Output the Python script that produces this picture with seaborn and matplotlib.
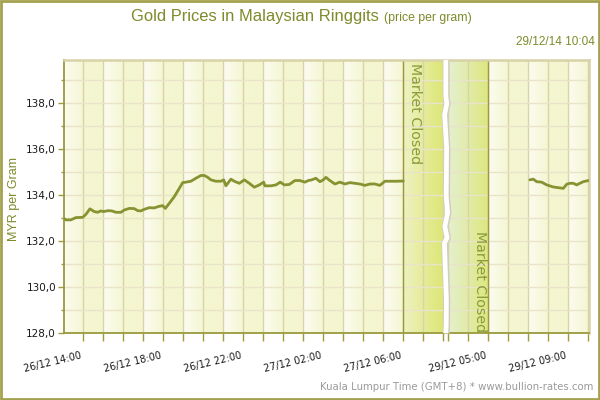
import numpy as np
import pandas as pd
import matplotlib
matplotlib.use("Agg")
import matplotlib.pyplot as plt
import matplotlib.transforms as mtransforms
import seaborn as sns
from matplotlib.patches import Rectangle
from matplotlib.ticker import FixedLocator, FuncFormatter

# ---------------- data ----------------
# Session 1: hours after 26/12 14:00 (Kuala Lumpur time), price MYR/gram
s1_hours = [-0.95, -0.87, -0.62, -0.37, -0.03, 0.13, 0.33, 0.55, 0.72, 0.88,
            1.02, 1.22, 1.43, 1.63, 1.88, 2.05, 2.30, 2.55, 2.72, 2.88,
            3.05, 3.30, 3.55, 3.75, 3.97, 4.10, 4.30, 4.55, 4.80, 4.97,
            5.13, 5.38, 5.63, 5.88, 6.05, 6.22, 6.38, 6.63, 6.88, 7.02,
            7.13, 7.38, 7.55, 7.80, 8.05, 8.30, 8.55, 8.80, 9.02, 9.08,
            9.38, 9.63, 9.85, 10.05, 10.30, 10.58, 10.83, 11.08, 11.25, 11.42,
            11.63, 11.83, 12.00, 12.13, 12.33, 12.58, 12.83, 13.08, 13.33, 13.58,
            13.83, 14.08, 14.33, 14.58, 14.83, 15.08, 15.33, 15.67, 16.00]
s1_prices = [132.98, 132.93, 132.93, 133.03, 133.04, 133.17, 133.41, 133.29, 133.26, 133.32,
             133.29, 133.33, 133.32, 133.26, 133.26, 133.36, 133.43, 133.42, 133.33, 133.32,
             133.39, 133.46, 133.45, 133.51, 133.55, 133.43, 133.65, 133.94, 134.30, 134.55,
             134.57, 134.61, 134.74, 134.86, 134.86, 134.78, 134.67, 134.61, 134.61, 134.67,
             134.41, 134.70, 134.61, 134.52, 134.67, 134.52, 134.35, 134.45, 134.57, 134.41,
             134.41, 134.45, 134.57, 134.45, 134.47, 134.64, 134.64, 134.57, 134.64, 134.67,
             134.74, 134.59, 134.67, 134.78, 134.64, 134.49, 134.57, 134.49, 134.55, 134.52,
             134.49, 134.43, 134.49, 134.49, 134.43, 134.61, 134.61, 134.61, 134.62]
# Session 2: clock hours on 29/12, price MYR/gram
s2_clock = [7.08, 7.25, 7.42, 7.67, 7.92, 8.25, 8.50, 8.75, 8.92, 9.08,
            9.25, 9.42, 9.58, 9.75, 10.00]
s2_prices = [134.67, 134.70, 134.59, 134.57, 134.45, 134.36, 134.33, 134.30, 134.48, 134.52,
             134.52, 134.45, 134.52, 134.59, 134.64]

x_tick_labels = ["26/12 14:00", "26/12 18:00", "26/12 22:00", "27/12 02:00",
                 "27/12 06:00", "29/12 05:00", "29/12 09:00"]
y_ticks = [128, 130, 132, 134, 136, 138]

# ---------------- axis mapping (trading-time scale with a break) ----------------
S2_OFFSET = 15.25            # 29/12 clock hour c -> display position c + 15.25
session1_ticks = list(range(0, 19))
session2_ticks = [c + S2_OFFSET for c in range(3, 11)]
label_pos = [0, 4, 8, 12, 16, 5 + S2_OFFSET, 9 + S2_OFFSET]
closed_spans = [(16, 18), (3 + S2_OFFSET, 5 + S2_OFFSET)]
break_x = 18.125
XMIN, XMAX = -0.95, 25.30
YMIN, YMAX = 128.0, 139.88

df1 = pd.DataFrame({"x": s1_hours, "price": s1_prices})
df2 = pd.DataFrame({"x": [c + S2_OFFSET for c in s2_clock], "price": s2_prices})

# ---------------- style ----------------
sns.set_theme(style="white")
plt.rcParams["font.family"] = ["DejaVu Sans"]

OLIVE = "#869330"
TEXT_OLIVE = "#7f8a2a"

fig = plt.figure(figsize=(6, 4), dpi=100)
fig.patch.set_facecolor("white")
ax = fig.add_axes([64.3 / 600, (400 - 333.3) / 400, (589.3 - 64.3) / 600, (333.3 - 60) / 400])

# background bands (white -> pale yellow gradient every 2 hours)
xs = np.linspace(XMIN, XMAX, 1400)
white = np.array([252, 252, 242]) / 255
yellow = np.array([244, 246, 208]) / 255
phase = np.where(xs < break_x, (xs + 1) % 2, (xs - 20.25) % 2)
w = np.clip(1 - phase / 1.2, 0, 1) ** 1.2
bg = white[None, :] * w[:, None] + yellow[None, :] * (1 - w[:, None])
ax.imshow(bg[None, :, :], extent=[XMIN, XMAX, YMIN, YMAX], aspect="auto", zorder=0,
          interpolation="bilinear")

# market-closed gradients
grads = [((238, 243, 196), (221, 230, 118)), ((229, 240, 210), (221, 231, 128))]
for (x0, x1), (c0, c1) in zip(closed_spans, grads):
    c0 = np.array(c0) / 255
    c1 = np.array(c1) / 255
    t = np.linspace(0, 1, 100)
    ty = np.linspace(0, 1, 60)[:, None, None]
    row = c0[None, :] * (1 - t[:, None]) + c1[None, :] * t[:, None]
    img = row[None, :, :] * (1 - 0.06 * ty) + (c1[None, None, :] * 0.06 * ty)
    ax.imshow(img, extent=[x0, x1, YMIN, YMAX], aspect="auto", zorder=0.2,
              interpolation="bilinear", origin="upper")

ax.set_xlim(XMIN, XMAX)
ax.set_ylim(YMIN, YMAX)

# ticks
ax.xaxis.set_major_locator(FixedLocator(label_pos))
ax.xaxis.set_minor_locator(FixedLocator(session1_ticks + session2_ticks))
ax.set_xticks(label_pos)
ax.set_xticklabels(x_tick_labels)
ax.yaxis.set_major_locator(FixedLocator(y_ticks))
ax.yaxis.set_minor_locator(FixedLocator([129, 131, 133, 135, 137, 139]))
ax.yaxis.set_major_formatter(FuncFormatter(lambda v, p: f"{v:.1f}".replace(".", ",")))

ax.tick_params(axis="x", which="both", direction="out", length=5.5, width=1, color="#9c9c3c",
               bottom=True, labelsize=7.0, labelcolor="#1a1a1a", pad=7)
ax.tick_params(axis="y", which="major", direction="out", length=4, width=1, color="#9c9c3c",
               left=True, labelsize=7.5, labelcolor="#1a1a1a", pad=2)
ax.tick_params(axis="y", which="minor", direction="out", length=2.5, width=1, color="#9c9c3c",
               left=True)
shift = mtransforms.ScaledTranslation(-3 / 100, 0, fig.dpi_scale_trans)
for lab in ax.get_xticklabels():
    lab.set_rotation(13.5)
    lab.set_ha("right")
    lab.set_rotation_mode("anchor")
    lab.set_transform(lab.get_transform() + shift)

ax.set_axisbelow(True)
ax.xaxis.grid(True, which="both", color="#d9d3a9", lw=1)
ax.yaxis.grid(True, which="both", color="#e9e3c9", lw=1)

for side in ["left", "bottom"]:
    ax.spines[side].set_color("#9a9a3c")
    ax.spines[side].set_linewidth(1.3)
for side in ["top", "right"]:
    ax.spines[side].set_color("#d8d2a6")
    ax.spines[side].set_linewidth(1.8)

# closed-market boundary lines
for xv in [closed_spans[0][0], closed_spans[1][1]]:
    ax.axvline(xv, color="#9a9a40", lw=1, zorder=2)

# break zigzag
zz_y = np.array([0, 0.03, 0.12, 0.33, 0.35, 0.39, 0.44, 0.50, 0.68, 0.80, 0.84, 0.87, 1.0])
zz_dx = np.array([0, 0.02, 0.03, -0.07, 0.07, -0.05, 0.09, 0.02, 0.04, -0.06, 0.05, 0.0, 0.0])
zz_yd = YMIN + zz_y * (YMAX - YMIN)
ax.plot(break_x + zz_dx + 0.02, zz_yd, color="#d2cdbb", lw=5.0, zorder=3, solid_capstyle="butt",
        clip_on=False)
ax.plot(break_x + zz_dx, zz_yd, color="white", lw=3.4, zorder=3.1, solid_capstyle="butt",
        clip_on=False)

# price line
sns.lineplot(data=df1, x="x", y="price", ax=ax, color=OLIVE, lw=2.0, zorder=4, legend=False)
sns.lineplot(data=df2, x="x", y="price", ax=ax, color=OLIVE, lw=2.0, zorder=4, legend=False)
ax.set_xlabel("")
ax.set_ylabel("")

# market closed labels
ax.text(closed_spans[0][0] + 0.22, 0.99, "Market Closed", transform=ax.get_xaxis_transform(),
        rotation=270, ha="left", va="top", fontsize=10.2, color="#8a9a3a", zorder=5)
ax.text(closed_spans[1][1] - 0.05, 0.004, "Market Closed", transform=ax.get_xaxis_transform(),
        rotation=270, ha="right", va="bottom", fontsize=10.2, color="#8a9a3a", zorder=5)

# texts
fig.text(14 / 600, 1 - 199 / 400, "MYR per Gram", rotation=90, ha="center", va="center",
         fontsize=9, color=TEXT_OLIVE, family=["Liberation Sans"])
t1 = fig.text(131 / 600, 1 - 17 / 400, "Gold Prices in Malaysian Ringgits", ha="left",
              va="center", fontsize=11.9, color=TEXT_OLIVE, family=["Liberation Sans"])
fig.canvas.draw()
bb = t1.get_window_extent(renderer=fig.canvas.get_renderer())
fig.text((bb.x1 + 5) / 600, 1 - 18 / 400, "(price per gram)", ha="left", va="center",
         fontsize=8.8, color=TEXT_OLIVE, family=["Liberation Sans"])
fig.text(595 / 600, 1 - 42 / 400, "29/12/14 10:04", ha="right", va="center",
         fontsize=8.5, color=TEXT_OLIVE, family=["Liberation Sans"])
fig.text(593 / 600, 1 - 387 / 400, "Kuala Lumpur Time (GMT+8) * www.bullion-rates.com",
         ha="right", va="center", fontsize=7.3, color="#9a9a9a")

# outer border
fig.patches.append(Rectangle((0.0015, 0.002), 0.997, 0.996, transform=fig.transFigure,
                             fill=False, edgecolor="#a3a04e", lw=2))

fig.savefig("out.png", dpi=100)
